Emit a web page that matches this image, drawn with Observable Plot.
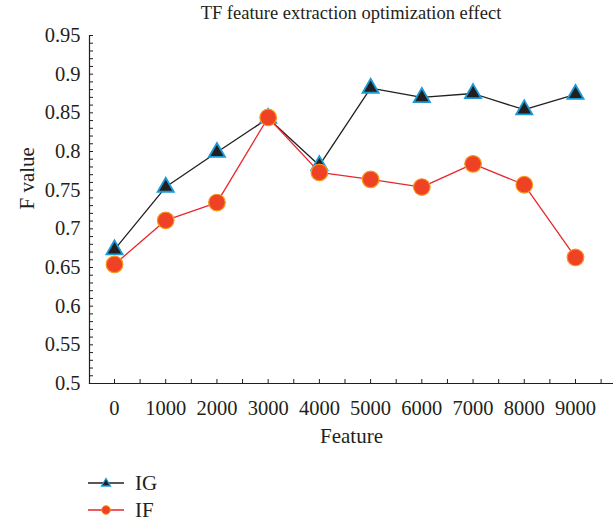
<!DOCTYPE html>
<html>
<head>
<meta charset="utf-8">
<script src="https://cdn.jsdelivr.net/npm/d3@7"></script>
<script src="https://cdn.jsdelivr.net/npm/@observablehq/plot@0.6"></script>
<style>
  html, body { margin: 0; padding: 0; background: #fff; }
  body { width: 613px; height: 522px; overflow: hidden; font-family: "Liberation Serif", serif; color: #231f20; }
  #title { height: 28px; line-height: 27px; font-size: 18.5px; text-align: center; padding-left: 89px; box-sizing: border-box; width: 613px; }
  #chart svg { display: block; }
  #legend { position: relative; height: 74px; font-size: 21px; }
  .item { position: absolute; left: 86px; height: 22px; display: flex; align-items: center; }
  .item span { margin-left: 9px; }
</style>
</head>
<body>
<div id="title">TF feature extraction optimization effect</div>
<div id="chart"></div>
<div id="legend"></div>
<script>
const features = [0, 1000, 2000, 3000, 4000, 5000, 6000, 7000, 8000, 9000];
const igValues = [0.673, 0.754, 0.799, 0.843, 0.782, 0.882, 0.870, 0.875, 0.854, 0.874];
const ifValues = [0.654, 0.711, 0.734, 0.844, 0.773, 0.764, 0.754, 0.784, 0.757, 0.663];
const yTicks = [0.5, 0.55, 0.6, 0.65, 0.7, 0.75, 0.8, 0.85, 0.9, 0.95];
const xMinorTicks = d3.range(0, 9501, 500);
const yMinorTicks = d3.range(50, 96, 1).map(d => d / 100);

const ig = features.map((f, i) => ({feature: f, value: igValues[i]}));
const iff = features.map((f, i) => ({feature: f, value: ifValues[i]}));

const chart = Plot.plot({
  width: 613,
  height: 420,
  marginLeft: 89,
  marginRight: 0,
  marginTop: 7,
  marginBottom: 65,
  x: {domain: [-488, 9742]},
  y: {domain: [0.5, 0.95]},
  style: {fontFamily: "Liberation Serif, serif", fontSize: "20px", color: "#231f20", background: "white", overflow: "visible"},
  marks: [
    Plot.axisX({ticks: features, tickSize: 0, tickPadding: 17, tickFormat: d => String(d), label: null, fontSize: 20.5}),
    Plot.axisY({ticks: yTicks, tickSize: 0, tickPadding: 9, tickFormat: d => String(+d.toFixed(2)), label: null, fontSize: 20.5}),
    Plot.tickX(xMinorTicks, {x: d => d, insetTop: 344, stroke: "#231f20", strokeWidth: 1}),
    Plot.tickY(yMinorTicks, {y: d => d, insetRight: 520, stroke: "#231f20", strokeWidth: 1}),
    Plot.frame({anchor: "left", stroke: "#231f20", strokeWidth: 1.2}),
    Plot.frame({anchor: "bottom", stroke: "#231f20", strokeWidth: 1.2}),
    Plot.text(["Feature"], {frameAnchor: "bottom", dy: 59, fontSize: 21}),
    Plot.text(["F value"], {frameAnchor: "left", dx: -62, rotate: -90, fontSize: 21}),
    Plot.line(ig, {x: "feature", y: "value", stroke: "#231f20", strokeWidth: 1.3}),
    Plot.dot(ig, {x: "feature", y: "value", symbol: "triangle", r: 6, fill: "#231f20", stroke: "#1b9ad6", strokeWidth: 1.8}),
    Plot.line(iff, {x: "feature", y: "value", stroke: "#e8262b", strokeWidth: 1.3}),
    Plot.dot(iff, {x: "feature", y: "value", r: 8.3, fill: "#ef4123", stroke: "#f7941d", strokeWidth: 1.2})
  ]
});
document.getElementById("chart").appendChild(chart);

const legend = document.getElementById("legend");
legend.innerHTML = `
  <div class="item" style="top:24px">
    <svg width="40" height="22"><line x1="2" y1="11" x2="38" y2="11" stroke="#231f20" stroke-width="1.3"/>
    <path d="M20,6.5 L24.5,14 L15.5,14 Z" fill="#231f20" stroke="#1b9ad6" stroke-width="1.3"/></svg>
    <span>IG</span>
  </div>
  <div class="item" style="top:51px">
    <svg width="40" height="22"><line x1="2" y1="11" x2="38" y2="11" stroke="#e8262b" stroke-width="1.3"/>
    <circle cx="20" cy="11" r="4.3" fill="#ef4123" stroke="#f7941d" stroke-width="1"/></svg>
    <span>IF</span>
  </div>`;
</script>
</body>
</html>
